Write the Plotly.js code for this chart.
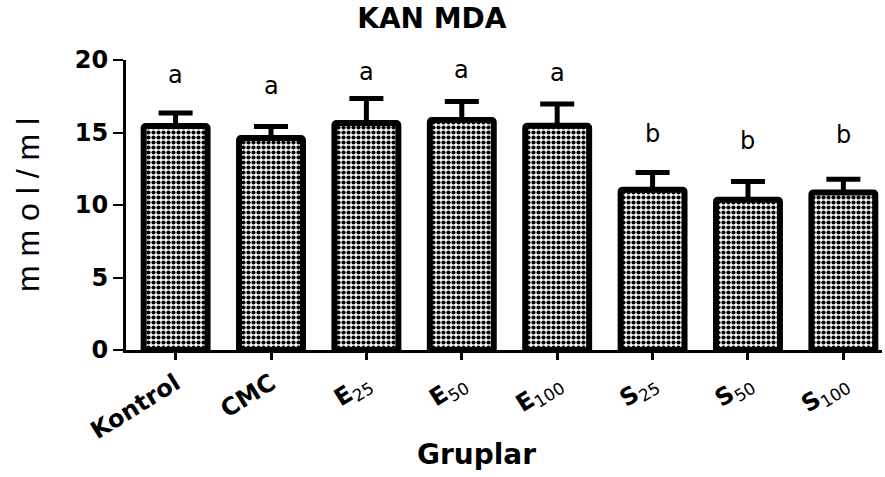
<!DOCTYPE html>
<html>
<head>
<meta charset="utf-8">
<script src="https://cdn.plot.ly/plotly-3.0.1.min.js"></script>
<style>html,body{margin:0;padding:0;background:#fff;}#chart{width:885px;height:477px;}</style>
</head>
<body>
<div id="chart"></div>
<script>
// Data
const categories = ["Kontrol", "CMC", "E25", "E50", "E100", "S25", "S50", "S100"];
const tickLabels = ["Kontrol", "CMC",
  "E<sub><span style='font-weight:normal'>25</span></sub>",
  "E<sub><span style='font-weight:normal'>50</span></sub>",
  "E<sub><span style='font-weight:normal'>100</span></sub>",
  "S<sub><span style='font-weight:normal'>25</span></sub>",
  "S<sub><span style='font-weight:normal'>50</span></sub>",
  "S<sub><span style='font-weight:normal'>100</span></sub>"];
const means = [15.45, 14.62, 15.66, 15.86, 15.47, 11.06, 10.37, 10.87];
const errors = [0.89, 0.80, 1.68, 1.28, 1.50, 1.18, 1.25, 0.91];
const letters = ["a", "a", "a", "a", "a", "b", "b", "b"];
const letterHeights = [18.97, 18.2, 19.17, 19.3, 19.1, 14.9, 14.4, 14.8];
const yTicks = [0, 5, 10, 15, 20];

const trace = {
  type: "bar",
  x: categories,
  y: means,
  width: 0.67,
  marker: {
    color: "#ffffff",
    cornerradius: 2,
    line: {color: "#000000", width: 6},
    pattern: {shape: ".", size: 5, solidity: 0.55, fgcolor: "#000000", bgcolor: "#ffffff", fillmode: "replace"}
  },
  error_y: {
    type: "data",
    symmetric: false,
    array: errors,
    arrayminus: errors.map(() => 0),
    color: "#000000",
    thickness: 5,
    width: 17
  },
  hoverinfo: "x+y"
};

const annotations = categories.map((c, i) => ({
  x: c, y: letterHeights[i], xref: "x", yref: "y",
  text: letters[i], showarrow: false, yanchor: "middle",
  font: {family: "DejaVu Sans, sans-serif", size: 24, color: "#000"}
}));
annotations.push({
  text: "Gruplar", xref: "paper", yref: "paper", x: 0.464, y: -0.362,
  xanchor: "center", yanchor: "middle", showarrow: false,
  font: {family: "DejaVu Sans, sans-serif", size: 28, weight: "bold", color: "#000"}
});

const layout = {
  width: 885, height: 477,
  margin: {l: 126, r: 3, t: 60, b: 127},
  paper_bgcolor: "#ffffff", plot_bgcolor: "#ffffff",
  showlegend: false,
  title: {
    text: "KAN MDA",
    x: 0.488, xref: "container", xanchor: "center",
    y: 0.962, yref: "container", yanchor: "middle",
    font: {family: "DejaVu Sans, sans-serif", size: 28, weight: "bold", color: "#000"}
  },
  xaxis: {
    type: "category",
    range: [-0.52, 7.405],
    tickvals: categories,
    ticktext: tickLabels,
    tickangle: -32,
    showline: true, linecolor: "#000", linewidth: 3,
    ticks: "outside", ticklen: 7, tickwidth: 3, tickcolor: "#000",
    showgrid: false, zeroline: false,
    tickfont: {family: "DejaVu Sans, sans-serif", size: 24, weight: "bold", color: "#000"}
  },
  yaxis: {
    range: [0, 20],
    tickvals: yTicks,
    showline: true, linecolor: "#000", linewidth: 3,
    ticks: "outside", ticklen: 10, tickwidth: 2, tickcolor: "#000",
    showgrid: false, zeroline: false,
    tickfont: {family: "DejaVu Sans, sans-serif", size: 24, weight: "bold", color: "#000"},
    title: {
      text: "m m o l / m l",
      standoff: 26,
      font: {family: "Liberation Sans, Arial, sans-serif", size: 32, color: "#000"}
    }
  },
  annotations: annotations
};

Plotly.newPlot("chart", [trace], layout, {displayModeBar: false, staticPlot: true});
</script>
</body>
</html>
